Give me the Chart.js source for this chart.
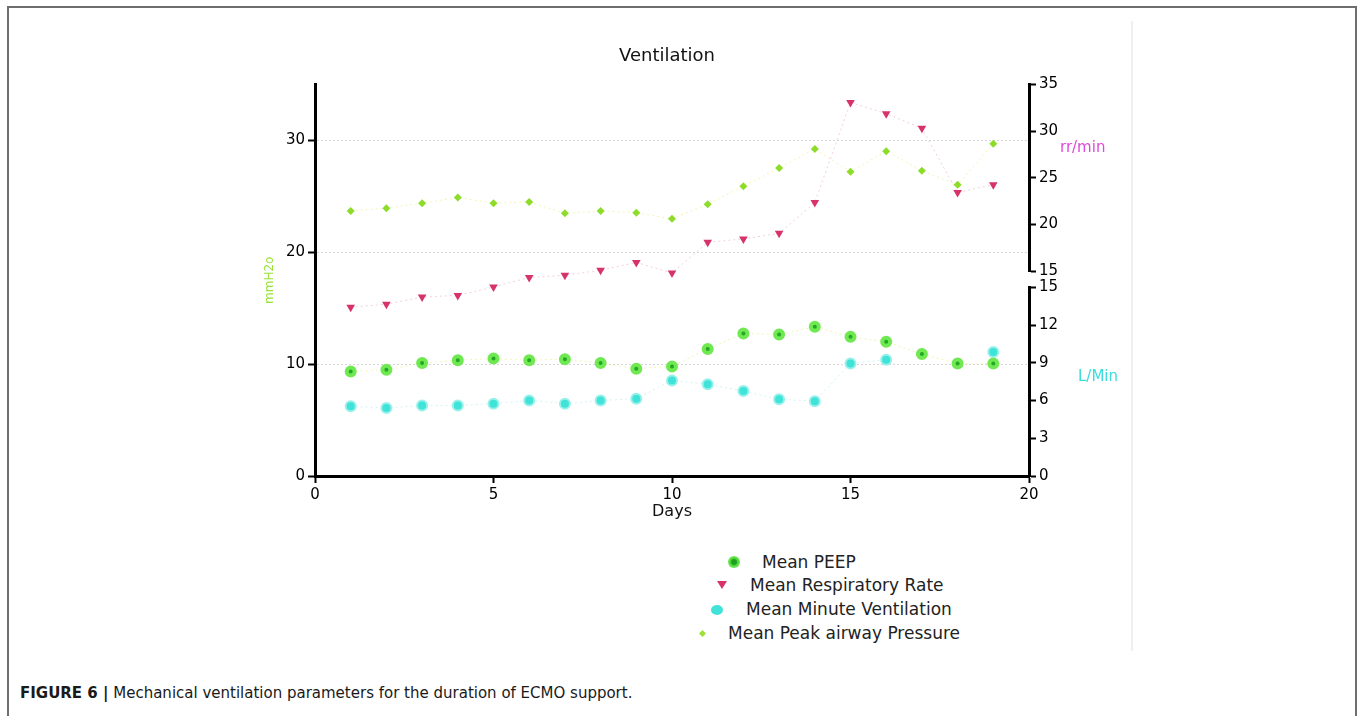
<!DOCTYPE html>
<html>
<head>
<meta charset="utf-8">
<title>Ventilation</title>
<script src="https://cdn.jsdelivr.net/npm/chart.js@4.4.1/dist/chart.umd.min.js"></script>
<style>
  html, body { margin: 0; padding: 0; background: #fff; }
  body { width: 1357px; height: 716px; position: relative; overflow: hidden; font-family: "DejaVu Sans", sans-serif; }
  #frame { position: absolute; left: 7px; top: 6px; width: 1350px; height: 760px; border: 2px solid #6e6e6e; border-bottom: none; box-sizing: border-box; }
  #inner { position: absolute; left: 1131px; top: 21px; width: 2px; height: 630px; background: #efefef; }
  #wrap { position: absolute; left: 0; top: 0; width: 1357px; height: 545px; }
  .tx { position: absolute; font-size: 17px; line-height: 20px; color: #222; white-space: nowrap; }
  .mk { position: absolute; }
  .peep { width: 12px; height: 12px; border-radius: 50%; background: radial-gradient(circle, #1f9e22 0 28%, #4fdc3a 45%, #9cf27e 100%); }
  .rr { width: 0; height: 0; border-left: 5px solid transparent; border-right: 5px solid transparent; border-top: 8px solid #d6336b; }
  .mv { width: 12px; height: 10px; border-radius: 50%; background: #40e2da; }
  .pk { width: 5px; height: 5px; background: #9ee03a; transform: rotate(45deg); }
  #caption { position: absolute; left: 20px; top: 684px; font-size: 15px; line-height: 18px; color: #1a1a1a; white-space: nowrap; }
</style>
</head>
<body>
<div id="frame"></div>
<div id="inner"></div>
<div id="wrap"><canvas id="ventChart"></canvas></div>

<!-- legend, stacked like the original figure -->
<span class="mk peep" style="left:728px; top:556px"></span><span class="tx" style="left:762px; top:552px">Mean PEEP</span>
<span class="mk rr" style="left:717px; top:581px"></span><span class="tx" style="left:750px; top:575px">Mean Respiratory Rate</span>
<span class="mk mv" style="left:711px; top:605px"></span><span class="tx" style="left:746px; top:599px">Mean Minute Ventilation</span>
<span class="mk pk" style="left:700px; top:631px"></span><span class="tx" style="left:728px; top:623px">Mean Peak airway Pressure</span>

<div id="caption"><b>FIGURE 6 |</b> Mechanical ventilation parameters for the duration of ECMO support.</div>

<script>
// Days of ECMO support
const days = [1, 2, 3, 4, 5, 6, 7, 8, 9, 10, 11, 12, 13, 14, 15, 16, 17, 18, 19];

// Series
const peep = [9.35, 9.5, 10.1, 10.35, 10.5, 10.35, 10.45, 10.1, 9.6, 9.8, 11.35, 12.75, 12.65, 13.35, 12.45, 12.0, 10.9, 10.05, 10.05];
const respRate = [15.1, 15.35, 16.0, 16.15, 16.9, 17.75, 17.95, 18.4, 19.1, 18.15, 20.9, 21.2, 21.7, 24.45, 33.4, 32.4, 31.1, 25.35, 26.05];
const minuteVent = [5.55, 5.4, 5.6, 5.6, 5.75, 6.0, 5.75, 6.0, 6.15, 7.6, 7.3, 6.75, 6.1, 5.95, 8.95, 9.25, null, null, 9.85];
const peakPressure = [23.7, 23.95, 24.4, 24.9, 24.4, 24.5, 23.5, 23.7, 23.55, 23.0, 24.3, 25.9, 27.55, 29.25, 27.2, 29.05, 27.3, 26.05, 29.7];

// Tick labels
const xTicks = [0, 5, 10, 15, 20];
const leftTicks = [0, 10, 20, 30];
const rrTicks = [15, 20, 25, 30, 35];
const mvTicks = [0, 3, 6, 9, 12, 15];

const FONT = "DejaVu Sans";
const toPoints = vals => days.map((d, i) => ({ x: d, y: vals[i] }));
const setTicks = list => scale => { scale.ticks = list.map(v => ({ value: v })); };

// shared look of the black axes
const axisGrid = { drawOnChartArea: false, tickLength: 7, tickWidth: 2, tickColor: "#000" };
const axisBorder = { width: 3, color: "#000" };
const tickOpts = { font: { family: FONT, size: 15 }, color: "#000", padding: 3 };

// rr/min and L/Min labels sit horizontally beside the right axes
const sideLabels = {
    id: "sideLabels",
    afterDraw(chart) {
        const { ctx, chartArea, scales } = chart;
        ctx.save();
        ctx.font = "15px '" + FONT + "'";
        ctx.textAlign = "left";
        ctx.textBaseline = "middle";
        ctx.fillStyle = "#e04ad8";
        ctx.fillText("rr/min", chartArea.right + 31, scales.yRR.getPixelForValue(28.2));
        ctx.fillStyle = "#3adcdc";
        ctx.fillText("L/Min", chartArea.right + 49, scales.yMV.getPixelForValue(7.9));
        ctx.restore();
    }
};

const ctx = document.getElementById("ventChart").getContext("2d");
new Chart(ctx, {
    type: "line",
    data: {
        datasets: [
            {
                label: "Mean PEEP",
                data: toPoints(peep),
                yAxisID: "y",
                borderColor: "rgba(235, 235, 120, 0.55)",
                borderWidth: 1,
                borderDash: [2, 3],
                pointStyle: "circle",
                pointRadius: 4,
                pointBorderWidth: 4,
                pointBackgroundColor: "#23a823",
                pointBorderColor: "#6fe852",
            },
            {
                label: "Mean Respiratory Rate",
                data: toPoints(respRate),
                yAxisID: "y",
                borderColor: "rgba(225, 150, 175, 0.45)",
                borderWidth: 1,
                borderDash: [2, 3],
                pointStyle: "triangle",
                rotation: 180,
                pointRadius: 5,
                pointBorderWidth: 0,
                pointBackgroundColor: "#d6336b",
            },
            {
                label: "Mean Minute Ventilation",
                data: toPoints(minuteVent),
                yAxisID: "yMV",
                borderColor: "rgba(120, 220, 220, 0.35)",
                borderWidth: 1,
                borderDash: [2, 3],
                spanGaps: false,
                pointStyle: "circle",
                pointRadius: 5,
                pointBorderWidth: 2,
                pointBackgroundColor: "#3fe3d8",
                pointBorderColor: "#98f0ea",
            },
            {
                label: "Mean Peak airway Pressure",
                data: toPoints(peakPressure),
                yAxisID: "y",
                borderColor: "rgba(235, 235, 120, 0.55)",
                borderWidth: 1,
                borderDash: [2, 3],
                pointStyle: "rectRot",
                pointRadius: 4,
                pointBorderWidth: 0,
                pointBackgroundColor: "#8ddc2a",
            },
        ],
    },
    options: {
        responsive: true,
        maintainAspectRatio: false,
        animation: false,
        layout: { padding: { top: 35, left: 255, right: 278, bottom: 21 } },
        plugins: {
            legend: { display: false },
            tooltip: { enabled: false },
            title: {
                display: true,
                text: "Ventilation",
                color: "#111",
                font: { family: FONT, size: 18, weight: "normal" },
                padding: { top: 11, bottom: 17 }
            }
        },
        scales: {
            x: {
                type: "linear",
                min: 0,
                max: 20,
                afterBuildTicks: setTicks(xTicks),
                afterFit: s => { s.height = 48; },
                grid: axisGrid,
                border: axisBorder,
                ticks: { ...tickOpts, maxRotation: 0 },
                title: { display: true, text: "Days", color: "#111", font: { family: FONT, size: 16 }, padding: { top: 0, bottom: 3 } }
            },
            y: {
                position: "left",
                min: 0,
                max: 35,
                afterBuildTicks: setTicks(leftTicks),
                afterFit: s => { s.width = 60; },
                grid: {
                    color: c => (c.tick && c.tick.value === 0) ? "rgba(0,0,0,0)" : "#d6d6d6",
                    lineWidth: 1,
                    tickLength: 7,
                    tickWidth: 2,
                    tickColor: "#000"
                },
                border: { width: 3, color: "#000", dash: [2, 2] },
                ticks: tickOpts,
                title: { display: true, text: "mmH2o", color: "#9be23c", font: { family: FONT, size: 12 }, padding: { top: 8, bottom: 0 } }
            },
            // right side: broken axis built from a stack of three scales
            yMV: {
                position: "right",
                stack: "right",
                stackWeight: 188,
                weight: 3,
                min: 0,
                max: 15,
                afterBuildTicks: setTicks(mvTicks),
                afterFit: s => { s.width = 50; },
                grid: axisGrid,
                border: axisBorder,
                ticks: tickOpts
            },
            yGap: {
                position: "right",
                stack: "right",
                stackWeight: 16,
                weight: 2,
                afterFit: s => { s.width = 50; },
                grid: { display: false },
                border: { display: false },
                ticks: { display: false }
            },
            yRR: {
                position: "right",
                stack: "right",
                stackWeight: 186,
                weight: 1,
                min: 15,
                max: 35,
                afterBuildTicks: setTicks(rrTicks),
                afterFit: s => { s.width = 50; },
                grid: axisGrid,
                border: axisBorder,
                ticks: tickOpts
            }
        }
    },
    plugins: [sideLabels]
});
</script>
</body>
</html>
